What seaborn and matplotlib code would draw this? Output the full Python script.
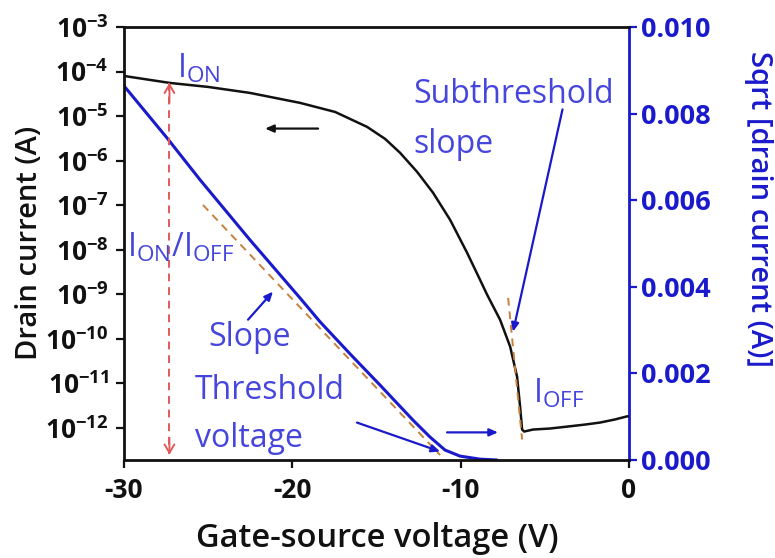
import matplotlib
matplotlib.use("Agg")
import matplotlib.pyplot as plt
import seaborn as sns
import pandas as pd

# ---------------- data ----------------
vg_log = [-30.00, -27.27, -25.01, -22.51, -19.54, -17.46, -15.56, -14.49, -13.60, -12.59,
          -11.64, -10.63, -9.62, -8.85, -8.43, -7.66, -7.06, -6.65, -6.47, -6.35, -6.23,
          -5.70, -4.69, -3.68, -2.61, -1.72, -0.83, -0.11, 0.00]
id_log = [7.96e-5, 5.55e-5, 4.52e-5, 3.31e-5, 1.98e-5, 1.24e-5, 5.73e-6, 3.08e-6, 1.50e-6, 5.61e-7,
          1.90e-7, 4.71e-8, 8.57e-9, 2.12e-9, 9.79e-10, 2.69e-10, 6.68e-11, 1.42e-11, 3.02e-12,
          9.20e-13, 8.30e-13, 9.20e-13, 9.70e-13, 1.07e-12, 1.19e-12, 1.32e-12, 1.55e-12,
          1.82e-12, 1.82e-12]

vg_sqrt = [-30.00, -27.45, -25.48, -22.51, -19.54, -18.35, -16.57, -14.79, -12.83, -11.82,
           -10.93, -10.04, -8.85, -7.84]
id_sqrt = [0.00864, 0.00744, 0.00647, 0.00508, 0.00374, 0.00319, 0.00245, 0.00173, 0.00092,
           0.00053, 0.00023, 0.00009, 0.00002, 0.00000]

x_ticks = [-30, -20, -10, 0]
x_ticklabels = ["-30", "-20", "-10", "0"]
left_ticks = [1e-3, 1e-4, 1e-5, 1e-6, 1e-7, 1e-8, 1e-9, 1e-10, 1e-11, 1e-12]
left_ticklabels = [r"$\mathbf{10^{%d}}$" % e for e in range(-3, -13, -1)]
right_ticks = [0.000, 0.002, 0.004, 0.006, 0.008, 0.010]
right_ticklabels = ["0.000", "0.002", "0.004", "0.006", "0.008", "0.010"]

# ---------------- style ----------------
sns.set_style("ticks")
plt.rcParams["font.family"] = ["Open Sans", "DejaVu Sans"]
plt.rcParams["mathtext.fontset"] = "custom"
plt.rcParams["mathtext.rm"] = "Open Sans"
plt.rcParams["mathtext.bf"] = "Open Sans:bold"
plt.rcParams["mathtext.it"] = "Open Sans"

BLUE = "#1a1acc"
TBLUE = "#4646dc"
RED = "#e05a5a"
ORANGE = "#c8803c"
BLACK = "#111111"

fig = plt.figure(figsize=(7.75, 5.58), dpi=100)
ax = fig.add_axes([124/775, 1-460/558, (629-124)/775, (460-27)/558])
ax2 = ax.twinx()

df_log = pd.DataFrame({"V": vg_log, "I": id_log})
df_sqrt = pd.DataFrame({"V": vg_sqrt, "S": id_sqrt})

sns.lineplot(data=df_log, x="V", y="I", ax=ax, color=BLACK, linewidth=1.8, sort=False)
sns.lineplot(data=df_sqrt, x="V", y="S", ax=ax2, color=BLUE, linewidth=2.2, sort=False)

ax.set_yscale("log")
ax.set_xlim(-30, 0)
ax.set_ylim(10**-12.72, 1e-3)
ax2.set_ylim(0, 0.010)

ax.set_xticks(x_ticks)
ax.set_xticklabels(x_ticklabels, fontsize=19, fontweight="bold")
ax.set_yticks(left_ticks)
ax.set_yticklabels(left_ticklabels, fontsize=19)
ax.minorticks_off()
ax2.set_yticks(right_ticks)
ax2.set_yticklabels(right_ticklabels, fontsize=19.5, fontweight="bold", color=BLUE)

ax.tick_params(axis="both", direction="out", length=6, width=1.6, colors=BLACK)
ax.tick_params(axis="x", pad=6)
ax.tick_params(axis="y", pad=5)
ax2.tick_params(axis="y", direction="out", length=6, width=1.6, colors=BLUE, pad=3)

for s in ["left", "bottom", "top"]:
    ax.spines[s].set_linewidth(2)
    ax.spines[s].set_color(BLACK)
ax.spines["right"].set_visible(False)
for s in ["left", "bottom", "top"]:
    ax2.spines[s].set_visible(False)
ax2.spines["right"].set_color(BLUE)
ax2.spines["right"].set_linewidth(2)

ax.set_xlabel("")
ax.set_ylabel("")
ax2.set_ylabel("")
fig.text(377/775, 1-547/558, "Gate-source voltage (V)", fontsize=23.5, fontweight="semibold",
         ha="center", va="baseline", color=BLACK)
fig.text(30/775, 1-243/558, "Drain current (A)", fontsize=21, fontweight="semibold",
         ha="center", va="center", rotation=90, color=BLACK)
fig.text(758/775, 1-209/558, "Sqrt [drain current (A)]", fontsize=21, fontweight="semibold",
         ha="center", va="center", rotation=270, color=BLUE)

ax.set_zorder(ax2.get_zorder() + 1)
ax.patch.set_visible(False)

# ---------------- dashed guide lines ----------------
ax.plot([-27.3, -27.3], [5.6e-5, 2.6e-13], ls=(0, (4, 3)), color=RED, lw=1.4)
for y0, y1 in [(2e-5, 5.6e-5), (6e-13, 2.5e-13)]:
    ax.annotate("", xy=(-27.3, y1), xytext=(-27.3, y0),
                arrowprops=dict(arrowstyle="->,head_length=0.6,head_width=0.35",
                                color=RED, lw=1.4, shrinkA=0, shrinkB=0))
ax2.plot([-25.31, -11.22], [0.00589, 0.000115], ls=(0, (4, 3)), color=ORANGE, lw=1.4)
ax.plot([-7.18, -6.35], [10**-9.08, 10**-12.26], ls=(0, (4, 3)), color=ORANGE, lw=1.4)

# ---------------- arrows ----------------
def arrow(tail, head, color):
    ax.annotate("", xy=head, xytext=tail,
                arrowprops=dict(arrowstyle="-|>,head_length=0.5,head_width=0.22",
                                color=color, lw=1.6, shrinkA=0, shrinkB=0))

arrow((-3.95, 10**-4.85), (-6.89, 10**-9.84), BLUE)
arrow((-22.63, 10**-9.57), (-21.15, 10**-8.94), BLUE)
arrow((-16.16, 10**-11.88), (-11.22, 10**-12.53), BLUE)
arrow((-10.81, 10**-12.10), (-7.78, 10**-12.10), BLUE)
arrow((-18.47, 10**-5.28), (-21.62, 10**-5.28), BLACK)

# ---------------- labels ----------------
tk = dict(fontsize=23, color=TBLUE, ha="left", va="baseline")
ax.text(-26.85, 7.2e-5, r"I$_{\mathrm{ON}}$", **tk)
ax.text(-29.8, 6.9e-9, r"I$_{\mathrm{ON}}$/I$_{\mathrm{OFF}}$", **tk)
ax.text(-25.0, 6.8e-11, "Slope", **tk)
ax.text(-25.78, 4.4e-12, "Threshold", **tk)
ax.text(-25.78, 3.8e-13, "voltage", **tk)
ax.text(-12.83, 2.0e-5, "Subthreshold", **tk)
ax.text(-12.83, 1.5e-6, "slope", **tk)
ax.text(-5.70, 3.7e-12, r"I$_{\mathrm{OFF}}$", **tk)

fig.savefig("out.png", dpi=100)
